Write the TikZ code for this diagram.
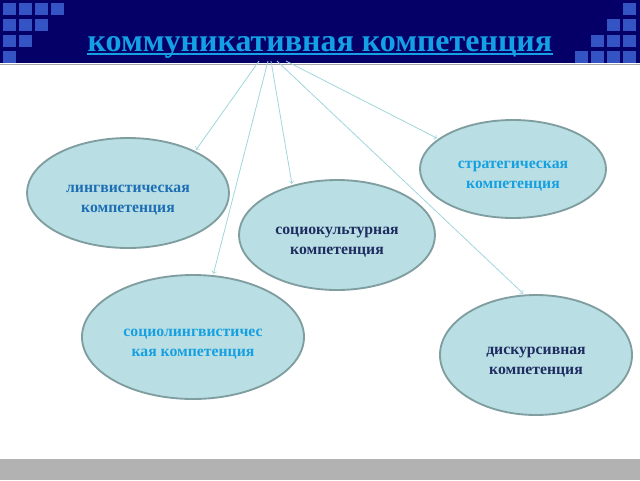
\documentclass[tikz,border=0pt]{standalone}
\usepackage{fontspec}
\setmainfont{Liberation Serif}
\usetikzlibrary{shapes.geometric,arrows,calc}
\definecolor{headblue}{RGB}{4,0,104}
\definecolor{tileblue}{RGB}{52,84,196}
\definecolor{titleblue}{RGB}{20,160,228}
\definecolor{bubblefill}{RGB}{185,223,228}
\definecolor{bubbledraw}{RGB}{128,158,160}
\definecolor{linkcol}{RGB}{160,214,220}
\definecolor{midblue}{RGB}{30,110,180}
\definecolor{skyblue}{RGB}{22,160,224}
\definecolor{darkblue}{RGB}{30,44,96}
\definecolor{footgray}{RGB}{178,178,178}

\begin{document}
\begin{tikzpicture}[x=0.75pt, y=-0.75pt,
    tile/.style={fill=tileblue},
    bubble/.style={ellipse, draw=bubbledraw, fill=bubblefill, line width=1.4pt, inner sep=0pt,
        align=center, font=\bfseries\fontsize{11.8}{14.5}\selectfont,
        execute at begin node={\rule{0pt}{31pt}}},
    linkarrow/.style={->, >=to, draw=linkcol, line width=0.6pt, shorten >=1pt}
]
\useasboundingbox (0,0) rectangle (640,480);

% Header band and tiles
\fill[headblue] (0,0) rectangle (640,63);
\draw[gray!70, line width=0.6pt] (0,64) -- (640,64);
\foreach \r in {0,...,3} {
    \pgfmathtruncatemacro\n{3-\r}
    \foreach \c in {0,...,\n}
        \fill[tile] (3+16*\c, 3+16*\r) rectangle ++(13,12);
}
\foreach \r in {0,...,3}
    \foreach \c in {0,...,\r}
        \fill[tile] (623-16*\c, 3+16*\r) rectangle ++(13,12);

% Footer band
\fill[footgray] (0,459) rectangle (640,480);
\draw[gray!60, line width=0.4pt] (0,459) -- (640,459);

% Title
\node (title) [anchor=base, inner sep=0pt, text=titleblue, font=\bfseries\fontsize{24}{28}\selectfont]
    at (320,51) {коммуникативная компетенция};
\draw[titleblue, line width=1.4pt] ($(title.base west)+(0,3)$) -- ($(title.base east)+(0,3)$);

% Competences
\node (ling) [bubble, minimum width=151.5pt, minimum height=82.5pt, text=midblue] at (128,193)
    {лингвистическая\\компетенция};
\node (strat) [bubble, minimum width=139.5pt, minimum height=73.5pt, text=skyblue] at (513,169)
    {стратегическая\\компетенция};
\node (sockult) [bubble, minimum width=147pt, minimum height=82.5pt, text=darkblue] at (337,235)
    {социокультурная\\компетенция};
\node (socling) [bubble, minimum width=166.5pt, minimum height=93pt, text=skyblue] at (193,337)
    {социолингвистичес\\кая компетенция};
\node (disk) [bubble, minimum width=144pt, minimum height=90pt, text=darkblue] at (536,355)
    {дискурсивная\\компетенция};

% Sources under the title
\coordinate (s1) at (259,61);
\coordinate (s2) at (268,61);
\coordinate (s3) at (271,61);
\coordinate (s4) at (277,61);
\coordinate (s5) at (286,61);

% Connections
\draw[linkarrow] (s1) -- (ling.32);
\draw[linkarrow] (s2) -- (socling.72);
\draw[linkarrow] (s3) -- (sockult.132);
\draw[linkarrow] (s4) -- (disk.101);
\draw[linkarrow] (s5) -- (strat.158);

\end{tikzpicture}
\end{document}
